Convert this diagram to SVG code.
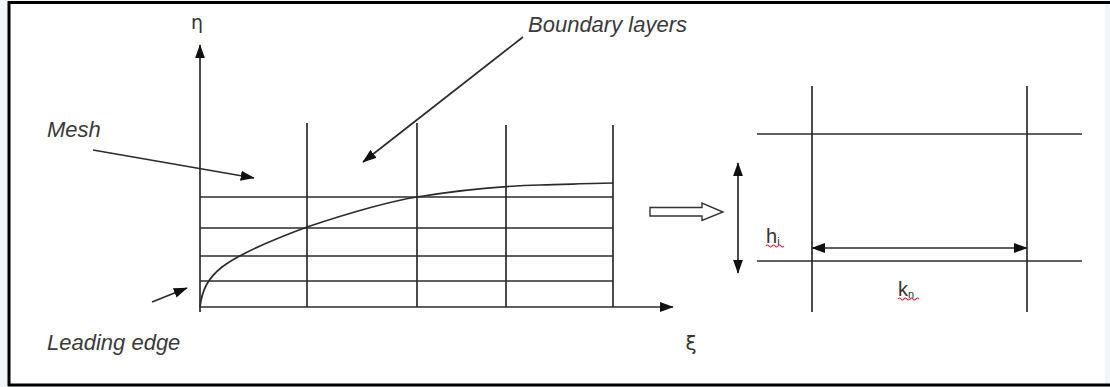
<svg xmlns="http://www.w3.org/2000/svg" width="1110" height="387" viewBox="0 0 1110 387">
<style>
.ln{stroke:#2b2b2b;stroke-width:1.7;fill:none}
.lbl{font-family:"Liberation Sans",Arial,sans-serif;font-style:italic;font-size:22px;fill:#3a3a3a}
.sym{font-family:"DejaVu Sans","Liberation Sans",sans-serif;fill:#333}
.sub{font-family:"Liberation Sans",Arial,sans-serif;fill:#333}
.sq{stroke:#e0204a;stroke-width:1.2;fill:none}
</style>
<defs>
<marker id="ahL" viewBox="0 0 10 10" refX="9.5" refY="5" markerWidth="14" markerHeight="10" markerUnits="userSpaceOnUse" orient="auto-start-reverse" preserveAspectRatio="none">
<path d="M0,0 L10,5 L0,10 z" fill="#111"/>
</marker>
</defs>
<rect x="0" y="0" width="1110" height="387" fill="#f2f5fa"/>
<rect x="9" y="2" width="1096" height="383" fill="#ffffff"/>
<g id="frame" stroke="#000" stroke-width="3">
<line x1="8" y1="2.5" x2="1110" y2="2.5"/>
<line x1="8" y1="385" x2="1110" y2="385"/>
<line x1="9" y1="1" x2="9" y2="386"/>
</g>
<g id="mesh-grid" class="ln">
<line x1="307" y1="123" x2="307" y2="307"/>
<line x1="417" y1="123" x2="417" y2="307"/>
<line x1="506" y1="125" x2="506" y2="307"/>
<line x1="613" y1="125" x2="613" y2="307"/>
<line x1="200" y1="197" x2="613" y2="197"/>
<line x1="200" y1="228" x2="613" y2="228"/>
<line x1="200" y1="256" x2="613" y2="256"/>
<line x1="200" y1="281" x2="613" y2="281"/>
</g>
<g id="boundary-curve">
<path class="ln" d="M200,307 C202,290 208,278 222,267 C242,252 280,237 307,227 C340,216 380,203 417,197 C460,190 503,186 540,185 C575,184 600,183 613,183"/>
</g>
<g id="axes" class="ln">
<line x1="200" y1="312" x2="200" y2="45" marker-end="url(#ahL)"/>
<line x1="200" y1="307" x2="673" y2="307" marker-end="url(#ahL)"/>
</g>
<g id="axis-labels">
<text class="sym" x="197" y="29" font-size="19" text-anchor="middle">η</text>
<text class="sym" x="691" y="350" font-size="20" text-anchor="middle">ξ</text>
</g>
<g id="label-mesh"><text class="lbl" x="47" y="137">Mesh</text></g>
<g id="label-boundary"><text class="lbl" x="528" y="32">Boundary layers</text></g>
<g id="label-leading"><text class="lbl" x="47" y="350">Leading edge</text></g>
<g id="connectors" class="ln">
<line x1="93" y1="150" x2="254" y2="178" marker-end="url(#ahL)"/>
<line x1="523" y1="37" x2="363" y2="162" marker-end="url(#ahL)"/>
<line x1="152" y1="302" x2="187" y2="288" marker-end="url(#ahL)"/>
</g>
<g id="hollow-arrow">
<path d="M650,207.5 L702,207.5 L702,203 L723,212 L702,220.5 L702,216 L650,216 z" fill="#fff" stroke="#333" stroke-width="1.4"/>
</g>
<g id="cell-detail" class="ln">
<line x1="812" y1="86" x2="812" y2="312"/>
<line x1="1027" y1="86" x2="1027" y2="312"/>
<line x1="757" y1="134" x2="1082" y2="134"/>
<line x1="757" y1="261" x2="1082" y2="261"/>
</g>
<g id="dim-arrows" class="ln">
<line x1="738" y1="163" x2="738" y2="273" marker-start="url(#ahL)" marker-end="url(#ahL)"/>
<line x1="812" y1="248" x2="1027" y2="248" marker-start="url(#ahL)" marker-end="url(#ahL)"/>
</g>
<g id="label-h">
<text class="sub" x="766" y="243" font-size="20">h<tspan font-size="11" dy="2">i</tspan></text>
<path class="sq" d="M766,246 q1.5,-2 3,0 t3,0 t3,0 t3,0 t3,0 t3,0"/>
</g>
<g id="label-k">
<text class="sub" x="898" y="296" font-size="20">k<tspan font-size="11" dy="2">n</tspan></text>
<path class="sq" d="M898,299 q1.5,-2 3,0 t3,0 t3,0 t3,0 t3,0 t3,0 t3,0"/>
</g>
</svg>
